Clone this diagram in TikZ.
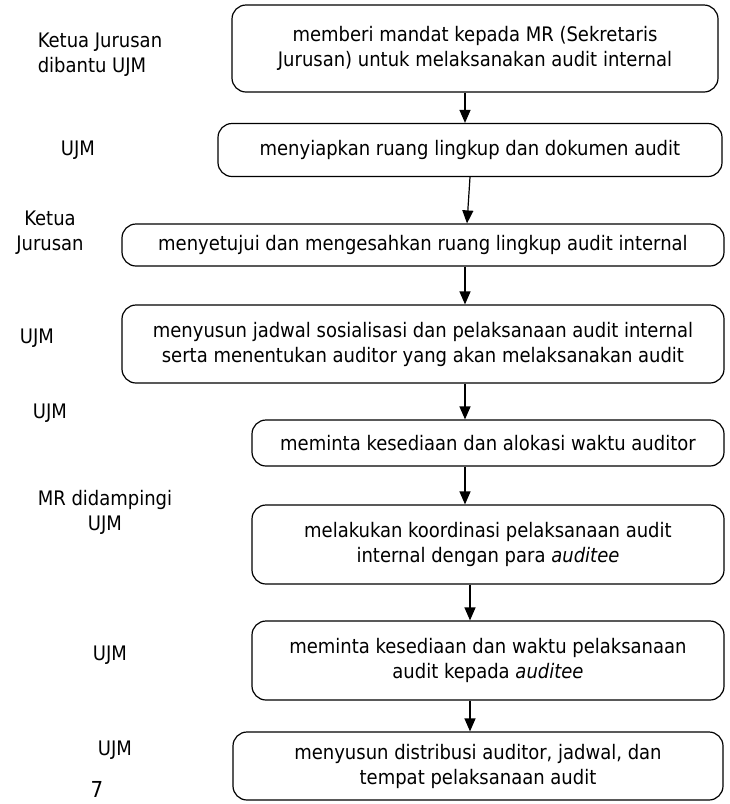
\documentclass[tikz,border=0pt]{standalone}
\usepackage{fontspec}
\setmainfont{DejaVu Sans Condensed}
\usetikzlibrary{arrows.meta}
\begin{document}
\begin{tikzpicture}[x=1pt,y=-1pt,
			every node/.style={font=\fontsize{20}{25}\selectfont},
			box/.style={draw,rounded corners=14pt,line width=1.2pt,align=center,inner sep=0pt},
			lbl/.style={align=center},
			arr/.style={-{Triangle[width=11pt,length=13pt]},line width=1.2pt}]
\useasboundingbox (0,0) rectangle (730,804);
% langkah-langkah
\node[box,minimum width=486,minimum height=87] (mandat) at (475,48.5)
	{memberi mandat kepada MR (Sekretaris\\Jurusan) untuk melaksanakan audit internal};
\node[box,minimum width=504,minimum height=53] (siap) at (470,150)
	{menyiapkan ruang lingkup dan dokumen audit};
\node[box,minimum width=602,minimum height=42] (setuju) at (423,245)
	{menyetujui dan mengesahkan ruang lingkup audit internal};
\node[box,minimum width=602,minimum height=78] (jadwal) at (423,344)
	{menyusun jadwal sosialisasi dan pelaksanaan audit internal\\serta menentukan auditor yang akan melaksanakan audit};
\node[box,minimum width=472,minimum height=46] (alokasi) at (488,443)
	{meminta kesediaan dan alokasi waktu auditor};
\node[box,minimum width=472,minimum height=79] (koord) at (488,544.5)
	{melakukan koordinasi pelaksanaan audit\\internal dengan para \textit{auditee}};
\node[box,minimum width=472,minimum height=79] (waktu) at (488,660.5)
	{meminta kesediaan dan waktu pelaksanaan\\audit kepada \textit{auditee}};
\node[box,minimum width=490,minimum height=68] (distribusi) at (478,766)
	{menyusun distribusi auditor, jadwal, dan\\tempat pelaksanaan audit};
% pelaksana
\node[lbl,align=left] (pj1) at (100,55) {Ketua Jurusan\\dibantu UJM};
\node[lbl] (pj2) at (78,150) {UJM};
\node[lbl] (pj3) at (50,233) {Ketua\\Jurusan};
\node[lbl] (pj4) at (37,338) {UJM};
\node[lbl] (pj5) at (50,413) {UJM};
\node[lbl] (pj6) at (105,512) {MR didampingi\\UJM};
\node[lbl] (pj7) at (110,655) {UJM};
\node[lbl] (pj8) at (115,750) {UJM};
\node[lbl,font=\fontsize{22}{24}\selectfont] (hal) at (97,789) {7};
% panah
\draw[arr] ([xshift=-10]mandat.south) -- ([xshift=-5]siap.north);
\draw[arr] ([xshift=0]siap.south) -- ([xshift=44]setuju.north);
\draw[arr] ([xshift=42]setuju.south) -- ([xshift=42]jadwal.north);
\draw[arr] ([xshift=42]jadwal.south) -- ([xshift=-23]alokasi.north);
\draw[arr] ([xshift=-23]alokasi.south) -- ([xshift=-23]koord.north);
\draw[arr] ([xshift=-18]koord.south) -- ([xshift=-18]waktu.north);
\draw[arr] ([xshift=-18]waktu.south) -- ([xshift=-8]distribusi.north);
\end{tikzpicture}
\end{document}
